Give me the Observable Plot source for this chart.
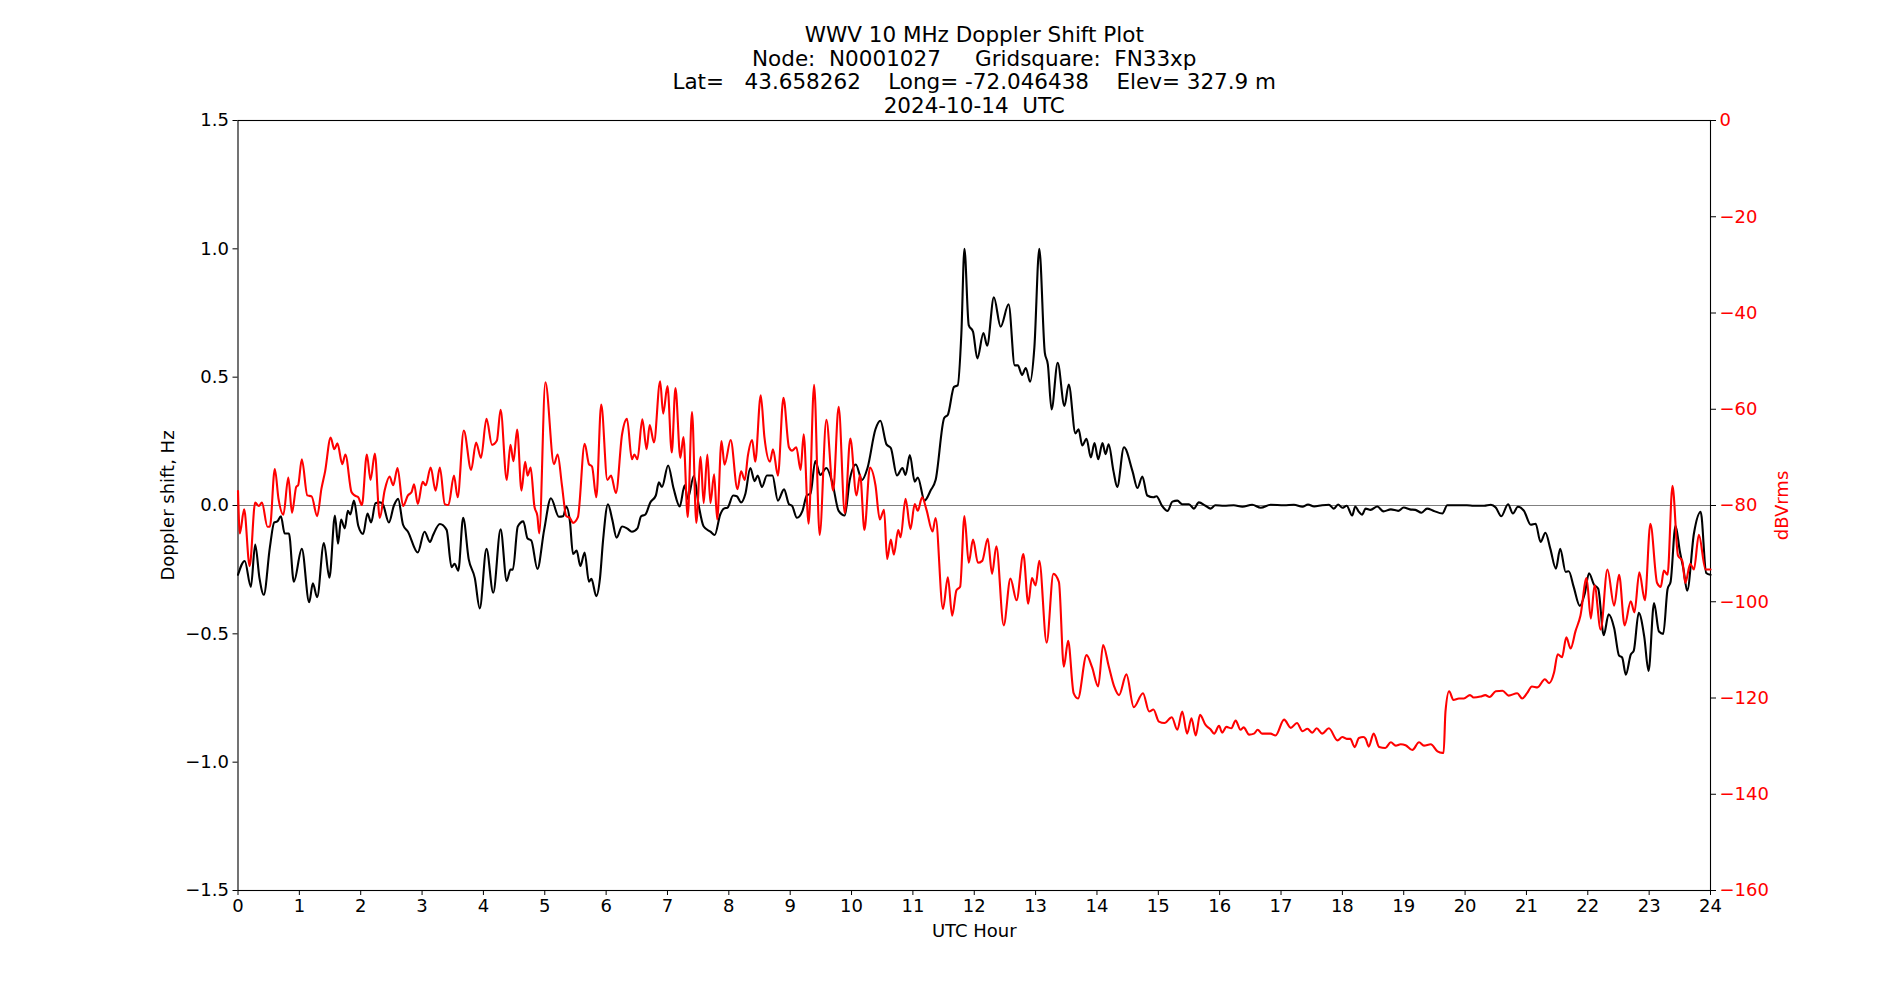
<!DOCTYPE html>
<html>
<head>
<meta charset="utf-8">
<script src="https://cdn.jsdelivr.net/npm/d3@7"></script>
<script src="https://cdn.jsdelivr.net/npm/@observablehq/plot@0.6"></script>
<style>
  html, body { margin: 0; padding: 0; background: #fff; }
  #chart { position: relative; width: 1900px; height: 1000px; }
  #chart svg { position: absolute; left: 0; top: 0; }
  #chart svg text { white-space: pre; }
</style>
</head>
<body>
<div id="chart"></div>
<script>
// Station / title text
const titleLines = [
  "WWV 10 MHz Doppler Shift Plot",
  "Node:  N0001027     Gridsquare:  FN33xp",
  "Lat=   43.658262    Long= -72.046438    Elev= 327.9 m",
  "2024-10-14  UTC"
];
const xLabel = "UTC Hour";
const leftLabel = "Doppler shift, Hz";
const rightLabel = "dBVrms";

// Axis ticks
const hourTicks = d3.range(0, 25, 1);
const hzTicks = [-1.5, -1.0, -0.5, 0.0, 0.5, 1.0, 1.5];
const dbTicks = [-160, -140, -120, -100, -80, -60, -40, -20, 0];

// Doppler shift (Hz) vs UTC hour
const dopplerHour = [0.00,0.11,0.21,0.28,0.35,0.42,0.52,0.59,0.64,0.70,0.76,0.83,0.91,1.04,1.16,1.22,1.29,1.40,1.49,1.58,1.63,1.68,1.74,1.79,1.83,1.89,1.96,2.04,2.11,2.17,2.24,2.31,2.36,2.46,2.54,2.61,2.69,2.77,2.93,3.04,3.13,3.18,3.29,3.40,3.48,3.53,3.59,3.67,3.76,3.86,3.94,4.05,4.16,4.28,4.38,4.44,4.48,4.56,4.65,4.72,4.78,4.88,4.99,5.10,5.23,5.30,5.35,5.41,5.46,5.52,5.58,5.65,5.72,5.76,5.84,5.90,5.95,6.03,6.10,6.17,6.26,6.34,6.42,6.51,6.57,6.64,6.72,6.81,6.86,6.91,7.01,7.10,7.20,7.28,7.33,7.43,7.51,7.59,7.70,7.77,7.86,7.92,7.98,8.07,8.13,8.20,8.27,8.35,8.42,8.47,8.54,8.62,8.71,8.80,8.90,8.98,9.03,9.11,9.20,9.27,9.33,9.41,9.49,9.59,9.69,9.79,9.89,9.97,10.07,10.17,10.26,10.39,10.47,10.57,10.64,10.74,10.83,10.88,10.95,11.03,11.08,11.19,11.29,11.37,11.51,11.57,11.67,11.73,11.79,11.84,11.91,11.98,12.05,12.15,12.21,12.32,12.43,12.56,12.66,12.71,12.78,12.84,12.91,12.98,13.06,13.15,13.20,13.26,13.36,13.47,13.54,13.65,13.70,13.76,13.83,13.90,13.96,14.02,14.09,14.14,14.19,14.27,14.33,14.44,14.58,14.66,14.74,14.82,14.92,14.97,15.06,15.15,15.23,15.31,15.39,15.50,15.58,15.66,15.77,15.85,15.93,16.07,16.23,16.37,16.53,16.67,16.83,17.05,17.21,17.35,17.44,17.54,17.67,17.78,17.86,17.93,18.00,18.07,18.16,18.21,18.27,18.32,18.38,18.46,18.57,18.67,18.79,18.91,19.00,19.10,19.19,19.29,19.38,19.49,19.63,19.71,19.87,20.03,20.14,20.31,20.42,20.50,20.59,20.70,20.78,20.86,20.96,21.07,21.15,21.23,21.31,21.39,21.48,21.55,21.64,21.69,21.77,21.87,21.95,22.02,22.10,22.17,22.26,22.34,22.43,22.51,22.56,22.62,22.70,22.75,22.83,22.92,22.99,23.08,23.16,23.23,23.30,23.35,23.43,23.50,23.56,23.62,23.73,23.84,23.93,24.00];
const dopplerHz = [-0.270,-0.216,-0.317,-0.152,-0.283,-0.348,-0.162,-0.066,-0.062,-0.042,-0.109,-0.109,-0.297,-0.169,-0.377,-0.303,-0.357,-0.146,-0.281,-0.039,-0.149,-0.055,-0.089,-0.021,-0.035,0.019,-0.079,-0.111,-0.031,-0.066,0.009,0.012,0.005,-0.066,-0.001,0.026,-0.075,-0.102,-0.183,-0.102,-0.142,-0.115,-0.072,-0.095,-0.240,-0.227,-0.254,-0.048,-0.209,-0.283,-0.401,-0.169,-0.340,-0.093,-0.294,-0.250,-0.250,-0.082,-0.062,-0.129,-0.136,-0.247,-0.095,0.028,-0.044,-0.042,-0.004,-0.062,-0.189,-0.176,-0.236,-0.183,-0.297,-0.286,-0.353,-0.283,-0.136,0.005,-0.055,-0.125,-0.082,-0.089,-0.102,-0.089,-0.042,-0.035,0.012,0.039,0.090,0.072,0.156,0.066,-0.004,0.079,0.026,0.115,-0.001,-0.082,-0.102,-0.115,-0.035,-0.012,-0.008,0.039,0.036,0.012,0.046,0.146,0.095,0.117,0.072,0.117,0.117,0.019,0.063,0.005,-0.001,-0.048,-0.021,0.039,0.046,0.173,0.119,0.146,0.086,-0.021,-0.039,0.099,0.160,0.099,0.146,0.297,0.330,0.238,0.224,0.117,0.146,0.119,0.197,0.093,0.109,0.019,0.059,0.099,0.341,0.354,0.462,0.468,0.670,1.000,0.703,0.677,0.573,0.672,0.623,0.811,0.697,0.784,0.546,0.546,0.509,0.536,0.482,0.616,1.000,0.596,0.549,0.374,0.556,0.388,0.471,0.281,0.297,0.234,0.260,0.187,0.243,0.180,0.243,0.200,0.238,0.133,0.072,0.227,0.133,0.068,0.113,0.039,0.032,0.036,-0.001,-0.021,0.015,0.019,0.005,0.005,-0.012,0.012,-0.001,-0.012,0.001,-0.001,0.001,-0.005,0.003,-0.009,0.003,0.001,0.003,-0.005,0.004,-0.004,0.001,0.003,-0.012,0.004,-0.009,-0.001,-0.039,-0.004,-0.025,-0.036,-0.012,-0.017,-0.004,-0.023,-0.015,-0.021,-0.008,-0.015,-0.017,-0.028,-0.012,-0.021,-0.031,0.001,0.001,0.001,-0.001,-0.001,0.003,-0.008,-0.042,0.005,-0.031,-0.005,-0.021,-0.075,-0.071,-0.142,-0.106,-0.169,-0.246,-0.169,-0.259,-0.256,-0.317,-0.391,-0.344,-0.264,-0.308,-0.324,-0.505,-0.424,-0.478,-0.585,-0.592,-0.659,-0.581,-0.565,-0.418,-0.511,-0.645,-0.380,-0.491,-0.500,-0.326,-0.297,-0.079,-0.178,-0.249,-0.332,-0.109,-0.025,-0.263,-0.270];

// Received signal level (dBVrms) vs UTC hour
const powerHour = [0.00,0.03,0.10,0.19,0.28,0.34,0.39,0.48,0.52,0.60,0.66,0.74,0.82,0.88,0.95,0.98,1.04,1.13,1.20,1.29,1.36,1.42,1.51,1.57,1.62,1.70,1.75,1.85,1.90,1.96,2.02,2.10,2.16,2.23,2.31,2.39,2.47,2.53,2.60,2.69,2.77,2.83,2.87,2.93,3.01,3.06,3.14,3.22,3.29,3.37,3.43,3.52,3.58,3.68,3.80,3.88,3.96,4.05,4.14,4.22,4.28,4.38,4.44,4.49,4.55,4.62,4.68,4.72,4.77,4.83,4.88,4.91,5.01,5.15,5.21,5.28,5.35,5.41,5.46,5.54,5.65,5.72,5.77,5.84,5.92,6.02,6.08,6.16,6.26,6.34,6.42,6.46,6.51,6.59,6.66,6.71,6.78,6.88,6.93,7.00,7.07,7.13,7.21,7.26,7.33,7.40,7.47,7.54,7.59,7.65,7.70,7.76,7.81,7.88,7.93,8.03,8.14,8.20,8.26,8.31,8.38,8.43,8.52,8.58,8.67,8.72,8.80,8.89,8.98,9.03,9.10,9.17,9.22,9.30,9.39,9.48,9.59,9.70,9.79,9.89,9.98,10.08,10.14,10.21,10.30,10.39,10.46,10.53,10.58,10.64,10.69,10.76,10.80,10.88,10.96,11.03,11.08,11.15,11.22,11.32,11.37,11.49,11.57,11.64,11.71,11.77,11.84,11.91,11.98,12.06,12.13,12.22,12.29,12.36,12.48,12.59,12.69,12.80,12.88,12.94,13.00,13.06,13.18,13.29,13.38,13.46,13.53,13.62,13.69,13.83,13.92,14.02,14.10,14.19,14.28,14.36,14.48,14.60,14.75,14.85,14.92,15.01,15.10,15.22,15.31,15.39,15.47,15.54,15.61,15.68,15.77,15.85,15.91,15.99,16.04,16.11,16.19,16.26,16.34,16.39,16.48,16.56,16.62,16.69,16.83,16.91,17.05,17.16,17.26,17.35,17.43,17.51,17.58,17.67,17.78,17.92,18.00,18.07,18.13,18.20,18.27,18.34,18.38,18.43,18.51,18.60,18.70,18.79,18.87,18.95,19.03,19.14,19.25,19.33,19.44,19.55,19.63,19.65,19.68,19.74,19.81,19.90,19.98,20.08,20.14,20.25,20.33,20.40,20.50,20.61,20.71,20.85,20.93,21.01,21.09,21.18,21.30,21.37,21.45,21.51,21.58,21.65,21.72,21.80,21.88,21.98,22.05,22.11,22.21,22.32,22.43,22.51,22.60,22.70,22.76,22.84,22.93,23.02,23.13,23.19,23.24,23.30,23.38,23.47,23.54,23.59,23.67,23.73,23.81,23.92,24.00];
const powerDb = [-77.0,-85.8,-80.8,-92.6,-79.4,-80.1,-79.4,-84.4,-84.4,-72.4,-78.6,-81.9,-74.2,-81.5,-76.1,-75.8,-70.4,-77.9,-78.1,-82.2,-76.5,-72.9,-65.9,-68.3,-67.1,-71.4,-69.4,-77.2,-77.9,-78.3,-79.9,-69.4,-74.7,-69.2,-82.6,-76.9,-74.0,-75.8,-72.2,-80.1,-77.9,-77.2,-75.6,-79.7,-75.1,-75.8,-72.1,-76.9,-72.1,-79.7,-79.9,-73.8,-78.3,-64.4,-72.6,-66.9,-70.1,-62.0,-67.4,-66.5,-60.1,-74.7,-67.4,-70.8,-64.2,-76.9,-70.9,-73.8,-72.1,-80.1,-82.2,-85.8,-54.4,-71.4,-69.4,-75.8,-82.2,-82.6,-83.6,-82.4,-67.2,-71.4,-71.9,-78.3,-59.0,-74.7,-73.8,-77.4,-65.2,-62.0,-70.4,-69.4,-70.4,-62.1,-68.3,-63.3,-66.9,-54.2,-60.9,-55.2,-69.0,-55.6,-70.1,-65.8,-82.4,-60.6,-83.6,-69.9,-79.5,-69.4,-79.5,-73.5,-82.9,-66.6,-71.5,-66.4,-76.6,-72.9,-74.7,-69.7,-66.4,-70.9,-57.1,-65.8,-70.9,-68.3,-73.8,-57.6,-67.9,-68.6,-67.9,-72.6,-65.2,-83.8,-54.9,-86.1,-62.2,-76.9,-59.5,-81.6,-66.1,-77.9,-73.6,-85.1,-72.1,-75.8,-82.9,-80.9,-91.1,-87.1,-90.2,-85.1,-86.6,-78.6,-84.9,-79.7,-81.1,-78.3,-80.8,-85.4,-82.6,-101.5,-94.9,-102.9,-97.6,-96.9,-82.2,-91.9,-87.1,-91.9,-91.5,-86.9,-94.2,-88.5,-104.9,-95.2,-99.7,-90.1,-100.4,-95.1,-96.6,-91.5,-108.5,-94.2,-95.9,-113.5,-108.1,-119.0,-120.1,-111.1,-113.6,-117.6,-109.0,-113.3,-117.6,-119.4,-115.1,-121.9,-119.0,-122.8,-122.4,-124.9,-125.2,-124.0,-126.6,-122.8,-127.4,-124.2,-127.8,-123.5,-125.6,-126.5,-127.4,-125.8,-127.2,-126.0,-126.3,-124.7,-126.6,-126.1,-127.6,-127.4,-126.6,-127.4,-127.4,-127.8,-124.5,-126.2,-125.2,-126.9,-126.4,-127.2,-126.3,-127.4,-126.3,-128.8,-128.1,-128.5,-128.5,-130.2,-128.3,-128.1,-128.5,-130.1,-127.4,-130.2,-130.4,-129.2,-129.9,-129.6,-129.8,-130.8,-129.2,-129.9,-129.6,-131.1,-131.4,-131.4,-122.9,-118.6,-120.4,-120.1,-120.1,-119.4,-119.9,-119.7,-119.4,-119.8,-118.6,-118.5,-119.5,-119.0,-120.1,-119.0,-117.6,-117.8,-116.1,-116.9,-114.7,-110.9,-111.5,-107.4,-109.7,-106.1,-102.9,-95.1,-103.5,-96.6,-105.8,-93.3,-100.8,-94.4,-104.9,-99.9,-102.2,-93.9,-99.7,-83.8,-96.1,-96.9,-93.5,-94.4,-75.9,-90.4,-91.5,-96.1,-92.1,-93.3,-86.1,-93.3,-93.3];

const doppler = dopplerHour.map((h, i) => ({hour: h, hz: dopplerHz[i]}));
const power = powerHour.map((h, i) => ({hour: h, db: powerDb[i]}));

// Shared frame geometry for the two overlaid panels
const frame = {
  width: 1900, height: 1000,
  marginLeft: 237.5, marginRight: 190, marginTop: 120, marginBottom: 110
};
const font = "DejaVu Sans, Liberation Sans, sans-serif";
const tickFont = 18;
const labelFont = 18;
const titleFont = 21.5;
const lineW = 2.1;

// Left panel: Doppler shift, x axis, frame and title
const left = Plot.plot({
  ...frame,
  style: {fontFamily: font, fontSize: tickFont + "px", background: "white", color: "black", overflow: "visible"},
  x: {domain: [0, 24], axis: null},
  y: {domain: [-1.5, 1.5], axis: null},
  marks: [
    Plot.ruleY([0], {stroke: "#808080", strokeWidth: 1.1}),
    Plot.line(doppler, {x: "hour", y: "hz", stroke: "black", strokeWidth: lineW, curve: "monotone-x"}),
    Plot.frame({stroke: "black", strokeWidth: 1.1}),
    Plot.axisX({ticks: hourTicks, tickFormat: d3.format("d"), tickSize: 5, tickPadding: 4, fontSize: tickFont, label: null}),
    Plot.axisY({ticks: hzTicks, tickFormat: d3.format(".1f"), tickSize: 5, tickPadding: 4, fontSize: tickFont, label: null}),
    Plot.text([xLabel], {frameAnchor: "bottom", dy: 41, lineAnchor: "middle", textAnchor: "middle", fontSize: labelFont}),
    Plot.text([leftLabel], {frameAnchor: "left", dx: -70, rotate: -90, lineAnchor: "middle", textAnchor: "middle", fontSize: labelFont}),
    Plot.text([titleLines.join("\n")], {frameAnchor: "top", dy: -8, lineAnchor: "bottom", textAnchor: "middle", fontSize: titleFont, lineHeight: 1.09})
  ]
});

// Right panel: signal level on its own scale, drawn on top
const right = Plot.plot({
  ...frame,
  style: {fontFamily: font, fontSize: tickFont + "px", background: "transparent", color: "black", overflow: "visible"},
  x: {domain: [0, 24], axis: null},
  y: {domain: [-160, 0], axis: null},
  marks: [
    Plot.line(power, {x: "hour", y: "db", stroke: "red", strokeWidth: lineW, curve: "monotone-x"}),
    Plot.axisY({anchor: "right", ticks: dbTicks, tickFormat: () => "", tickSize: 5, label: null}),
    Plot.axisY({anchor: "right", ticks: dbTicks, tickFormat: d3.format("d"), tickSize: 0, tickPadding: 9, fill: "red", fontSize: tickFont, label: null}),
    Plot.text([rightLabel], {frameAnchor: "right", dx: 72, rotate: -90, lineAnchor: "middle", textAnchor: "middle", fill: "red", fontSize: labelFont})
  ]
});

const chart = document.getElementById("chart");
chart.appendChild(left);
chart.appendChild(right);
</script>
</body>
</html>
